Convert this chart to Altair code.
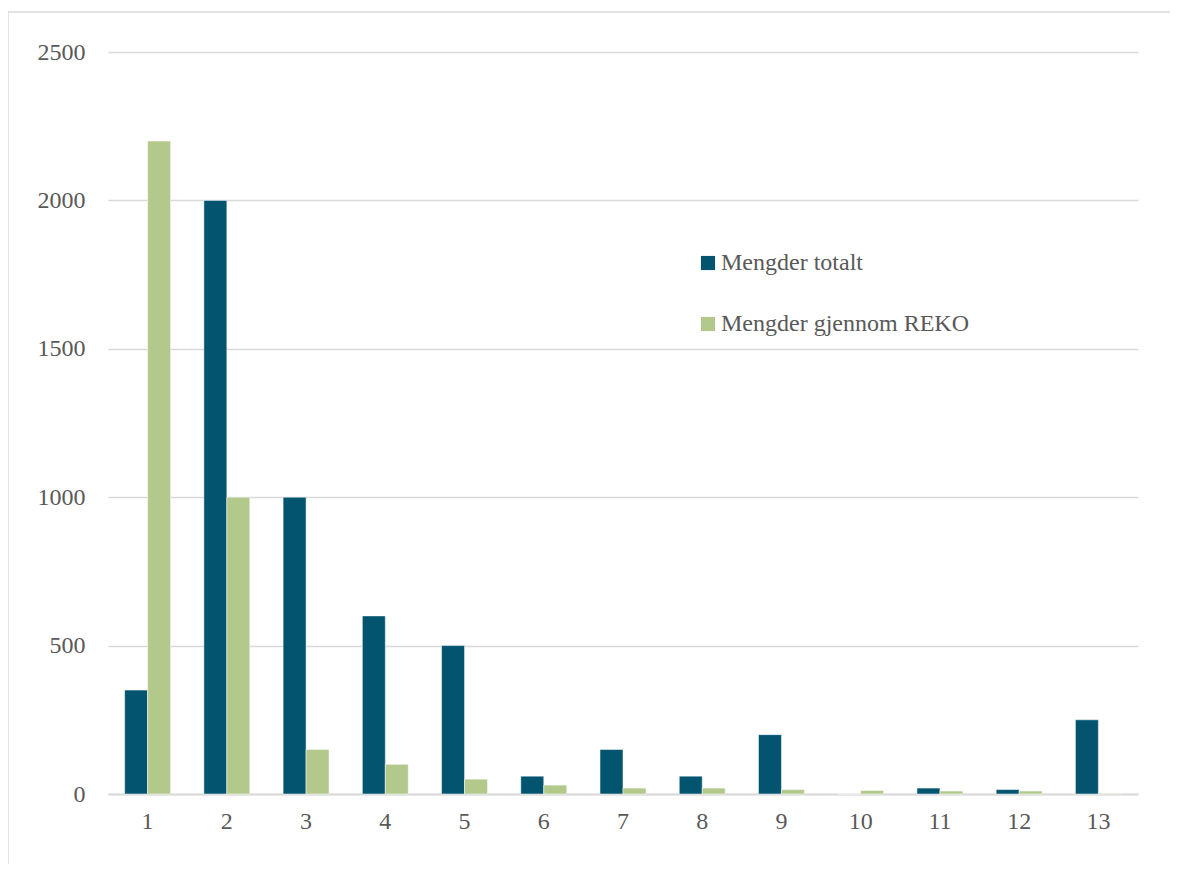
import altair as alt
import pandas as pd

categories = [str(i) for i in range(1, 14)]
totalt = [350, 2000, 1000, 600, 500, 60, 150, 60, 200, 0, 20, 15, 250]
reko = [2200, 1000, 150, 100, 50, 30, 20, 20, 15, 12, 10, 10, 2]
series_names = ["Mengder totalt", "Mengder gjennom REKO"]
colors = ["#02546f", "#b3c98c"]

rows = []
for c, t, r in zip(categories, totalt, reko):
    rows.append({"cat": c, "serie": series_names[0], "verdi": t})
    rows.append({"cat": c, "serie": series_names[1], "verdi": r})
df = pd.DataFrame(rows)

W, H = 1030, 742
FONT = "Liberation Serif"
FS = 24

bars = alt.Chart(df).mark_bar(stroke="white", strokeWidth=0.5).encode(
    x=alt.X("cat:O", sort=categories, title=None,
            scale=alt.Scale(paddingInner=0.42, paddingOuter=0.21),
            axis=alt.Axis(labelAngle=0, labelFontSize=FS, labelColor="#595959",
                          labelFont=FONT, labelPadding=15, ticks=False,
                          domainColor="#d9d9d9", domainWidth=2, grid=False)),
    xOffset=alt.XOffset("serie:N", sort=series_names),
    y=alt.Y("verdi:Q", title=None,
            scale=alt.Scale(domain=[0, 2500]),
            axis=alt.Axis(values=[0, 500, 1000, 1500, 2000, 2500], format="d",
                          labelFontSize=FS,
                          labelColor="#595959", labelFont=FONT, labelPadding=23,
                          ticks=False, domain=False, gridColor="#d9d9d9", gridWidth=1.3)),
    color=alt.Color("serie:N", sort=series_names,
                    scale=alt.Scale(domain=series_names, range=colors),
                    legend=alt.Legend(title=None, orient="none", legendX=588, legendY=199,
                                      symbolType="square", symbolSize=200,
                                      labelFontSize=FS, labelFont=FONT, labelColor="#595959",
                                      labelLimit=0,
                                      rowPadding=37, symbolStrokeWidth=0, labelOffset=1)),
)

base = alt.Chart(pd.DataFrame({"a": [0]}))
top_line = base.mark_rule(stroke="#d9d9d9", strokeWidth=1.5, clip=False).encode(
    x=alt.value(-100), x2=alt.value(1069), y=alt.value(-40)
)
left_line = base.mark_rule(stroke="#d9d9d9", strokeWidth=1.5, clip=False).encode(
    x=alt.value(-100), y=alt.value(-40), y2=alt.value(900)
)

chart = alt.layer(top_line, left_line, bars).properties(
    width=W, height=H,
    autosize=alt.AutoSizeParams(type="none"),
    padding={"left": 100, "top": 44, "right": 32, "bottom": 70},
    view=alt.ViewBackground(strokeOpacity=0, strokeWidth=0),
).configure_view(strokeWidth=0, strokeOpacity=0).configure(background="white")

chart.save("out.html", embed_options={"renderer": "svg", "actions": False})
